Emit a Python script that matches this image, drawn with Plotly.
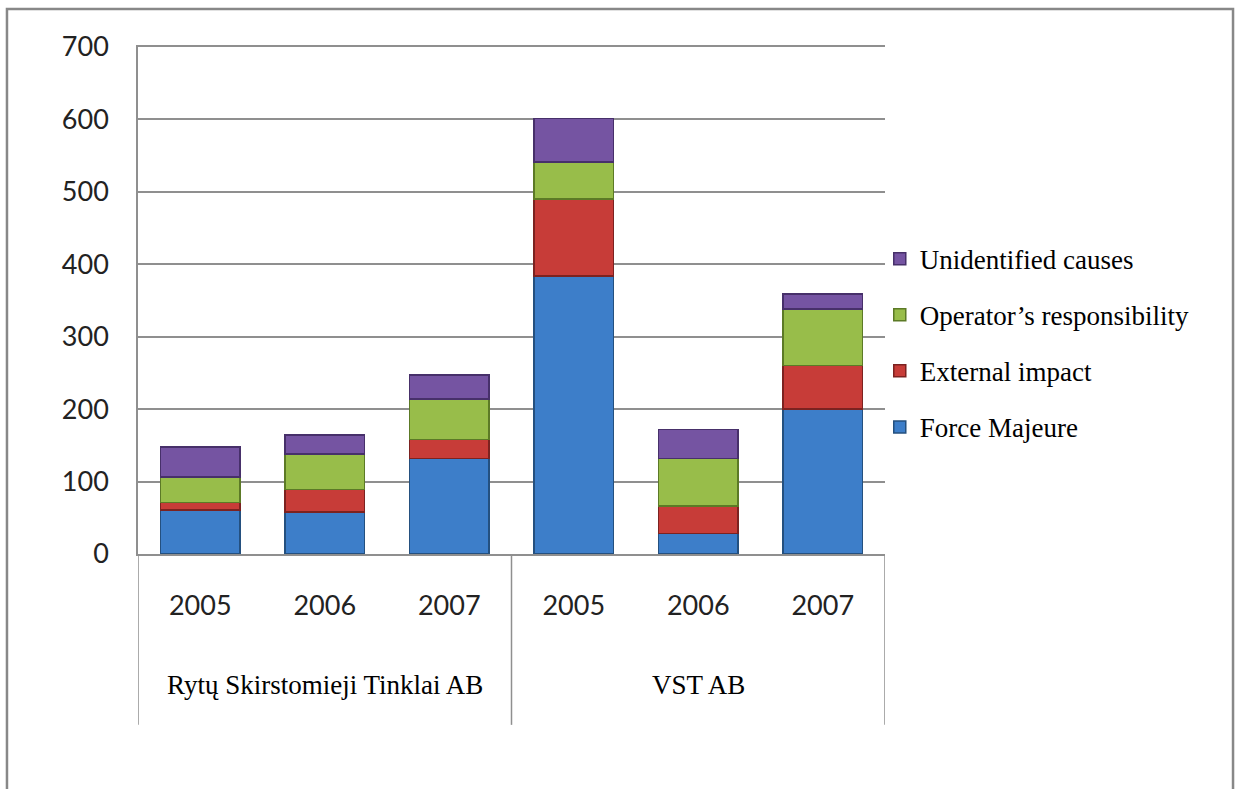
import plotly.graph_objects as go

# data
companies = ["Rytų Skirstomieji Tinklai AB", "VST AB"]
years = ["2005", "2006", "2007", "2005", "2006", "2007"]

force_majeure = [61, 58, 132, 384, 28, 200]
external_impact = [10, 31, 26, 106, 38, 60]
operator_resp = [35, 49, 56, 51, 66, 78]
unidentified = [42, 26, 33, 60, 40, 21]

series = [
    ("Force Majeure", force_majeure, "#3d7ec9", "#24507f"),
    ("External impact", external_impact, "#c73c38", "#7c2220"),
    ("Operator\u2019s responsibility", operator_resp, "#98bd4a", "#5c7a26"),
    ("Unidentified causes", unidentified, "#7554a2", "#47306a"),
]

x_pos = list(range(len(years)))

fig = go.Figure()
for i, (name, vals, col, edge) in enumerate(series):
    fig.add_trace(go.Bar(
        x=x_pos,
        y=vals,
        name=name,
        legendgroup=f"g{i}",
        legendrank=1000 - i,  # top of the stack first in the legend
        width=0.64,
        marker=dict(color=col, line=dict(color=edge, width=1.5)),
    ))

grid = "#8f8f8f"
serif = "Liberation Serif, Times New Roman, serif"
sans = "Lato, Open Sans, sans-serif"

fig.update_layout(
    barmode="stack",
    width=1243,
    height=789,
    margin=dict(l=138, r=358, t=47, b=235),
    paper_bgcolor="white",
    plot_bgcolor="white",
    showlegend=True,
    legend=dict(
        x=0.993, y=0.63, xanchor="left", yanchor="top",
        traceorder="grouped",
        tracegroupgap=18,
        font=dict(family=serif, size=27, color="black"),
        itemwidth=30,
        bgcolor="rgba(0,0,0,0)",
    ),
    xaxis=dict(
        range=[-0.5, 5.5],
        tickvals=x_pos,
        ticktext=years,
        ticks="",
        ticklabelstandoff=27,
        tickfont=dict(family=sans, size=27, color="#222"),
        showgrid=False,
        showline=True,
        mirror=True,
        linecolor=grid,
        linewidth=1.5,
        zeroline=False,
        fixedrange=True,
    ),
    yaxis=dict(
        range=[0, 700],
        tickvals=[0, 100, 200, 300, 400, 500, 600, 700],
        ticks="",
        ticklabelstandoff=22,
        tickfont=dict(family=sans, size=27, color="#222"),
        showgrid=True,
        gridcolor=grid,
        gridwidth=1.5,
        showline=True,
        linecolor=grid,
        linewidth=1.5,
        zeroline=False,
        fixedrange=True,
    ),
)

# category group dividers below the axis
for xv in [-0.5, 2.5, 5.5]:
    fig.add_shape(type="line", xref="x", yref="paper",
                  x0=xv, x1=xv, y0=0, y1=-0.337,
                  line=dict(color=grid, width=1.5))

# group labels
for label, centre in zip(companies, [1, 4]):
    fig.add_annotation(x=centre, y=-0.292, xref="x", yref="paper",
                       text=label, showarrow=False,
                       font=dict(family=serif, size=27, color="black"))

# outer frame of the chart
fig.add_shape(type="rect", xref="paper", yref="paper",
              x0=-0.1754, x1=1.4659, y0=-0.6, y1=1.075,
              line=dict(color="#888888", width=2.5))

# drop the default page margin so the figure sits at the window's corner
fig.write_html("out.html", config={"displayModeBar": False},
               post_script="document.body.style.margin='0';")
